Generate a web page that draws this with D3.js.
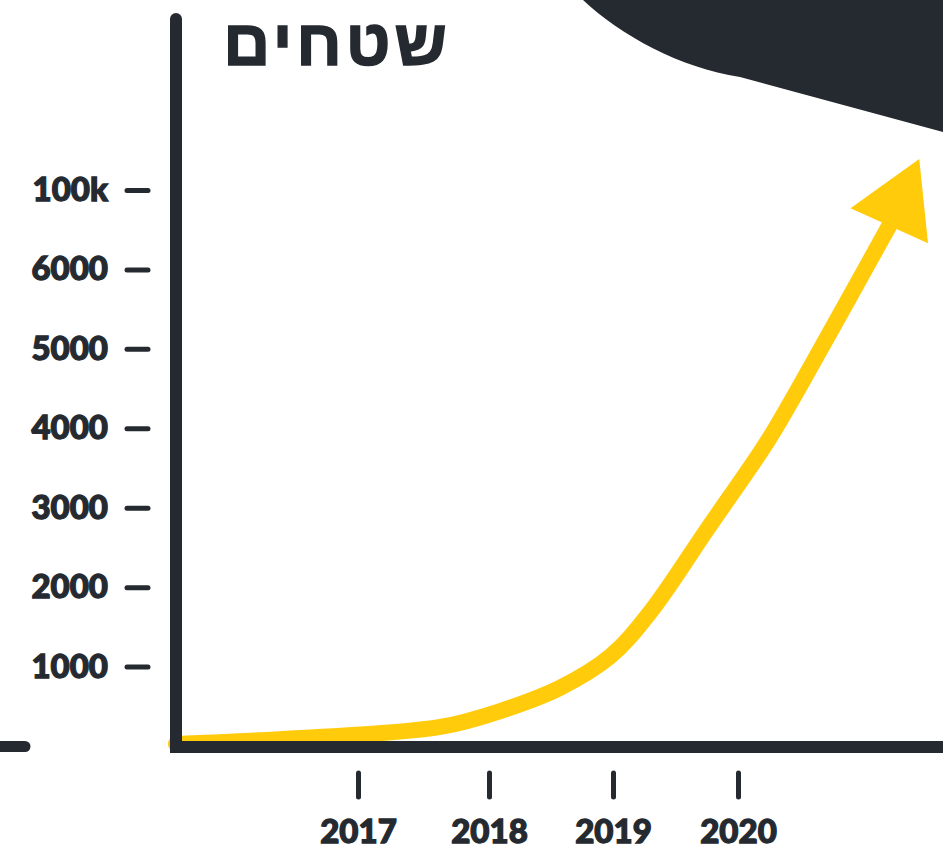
<!DOCTYPE html>
<html>
<head>
<meta charset="utf-8">
<script src="https://cdn.jsdelivr.net/npm/d3@7"></script>
<style>
  body { margin: 0; background: #fff; }
  svg { display: block; }
</style>
</head>
<body>
<svg id="chart" width="943" height="852"></svg>
<script>
const title = "שטחים";
const xTickYears = [2017, 2018, 2019, 2020];
const yTickValues = [1000, 2000, 3000, 4000, 5000, 6000, 7000];
const yTickLabels = ["1000", "2000", "3000", "4000", "5000", "6000", "100k"];

// growth line (year, value)
const lineYears = [2015.61, 2016.56, 2017.63, 2018.09, 2018.57, 2018.98, 2019.3, 2019.75, 2020.18, 2020.3, 2020.5, 2021.21];
const lineValues = [25, 100, 240, 440, 730, 1130, 1690, 2720, 3700, 4000, 4545, 6550];
const arrowTip = [2021.45, 7390];

const dark = "#252a31";
const yellow = "#ffcb0b";

const svg = d3.select("#chart");

// tick spacing in the picture is a little uneven
const x = d3.scaleLinear().domain(xTickYears).range([358, 489, 613, 738]);
const y = d3.scaleLinear().domain([0, 7000]).range([746, 190]);

// dark blob in the corner
svg.append("path")
  .attr("d", "M583,0 C620,35 680,68 740,77 L943,132 L943,0 Z")
  .attr("fill", dark);

// yellow line
const pts = lineYears.map((yr, i) => [x(yr), y(lineValues[i])]);
const line = d3.line().curve(d3.curveCatmullRom.alpha(0.5));

svg.append("path")
  .attr("d", line(pts))
  .attr("fill", "none")
  .attr("stroke", yellow)
  .attr("stroke-width", 16)
  .attr("stroke-linecap", "round");

// arrow head
const base = pts[pts.length - 1];
const tip = [x(arrowTip[0]), y(arrowTip[1])];
const dx = tip[0] - base[0], dy = tip[1] - base[1];
const len = Math.hypot(dx, dy);
const px = -dy / len, py = dx / len;
const half = 42.5;
svg.append("path")
  .attr("d", `M${tip[0]},${tip[1]} L${base[0] + px * half},${base[1] + py * half} L${base[0] - px * half},${base[1] - py * half} Z`)
  .attr("fill", yellow);

// main axes
svg.append("path")
  .attr("d", `M176,19 L176,${y(0) + 1} L950,${y(0) + 1}`)
  .attr("fill", "none")
  .attr("stroke", dark)
  .attr("stroke-width", 12)
  .attr("stroke-linecap", "round")
  .attr("stroke-linejoin", "miter");

// little stub on the left
svg.append("line")
  .attr("x1", -10).attr("x2", 25)
  .attr("y1", y(0) + 0.5).attr("y2", y(0) + 0.5)
  .attr("stroke", dark)
  .attr("stroke-width", 11)
  .attr("stroke-linecap", "round");

function styleTicks(g) {
  g.select(".domain").remove();
  g.selectAll(".tick line")
    .attr("stroke", dark)
    .attr("stroke-width", 5)
    .attr("stroke-linecap", "round");
  g.selectAll(".tick text")
    .attr("fill", dark)
    .attr("stroke", dark)
    .attr("stroke-width", 1.3)
    .style("font-family", "Lato, 'DejaVu Sans', sans-serif")
    .style("font-weight", 900)
    .style("font-size", "33px");
}

// y ticks
svg.append("g")
  .attr("transform", "translate(148,0)")
  .call(d3.axisLeft(y)
    .tickValues(yTickValues)
    .tickFormat((d, i) => yTickLabels[i])
    .tickSize(21)
    .tickPadding(19))
  .call(styleTicks);

// x ticks
svg.append("g")
  .attr("transform", "translate(0,773)")
  .call(d3.axisBottom(x)
    .tickValues(xTickYears)
    .tickFormat(d3.format("d"))
    .tickSize(24)
    .tickPadding(23))
  .call(styleTicks);

// title
svg.append("text")
  .attr("x", 337)
  .attr("y", 65)
  .attr("text-anchor", "middle")
  .attr("fill", dark)
  .attr("stroke", dark)
  .attr("stroke-width", 1.5)
  .style("font-family", "'Liberation Sans', 'DejaVu Sans', sans-serif")
  .style("font-weight", 700)
  .style("font-size", "65px")
  .style("letter-spacing", "4px")
  .text(title);
</script>
</body>
</html>
